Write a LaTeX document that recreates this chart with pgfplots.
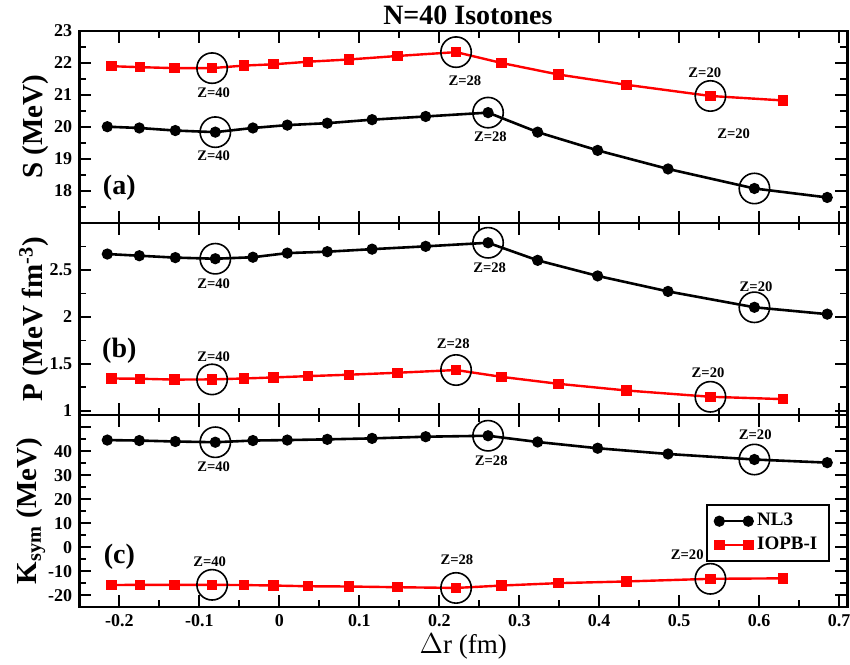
\documentclass[border=0pt]{standalone}
\usepackage{fontspec}
\setmainfont{Liberation Serif}
\usepackage{pgfplots}
\usepackage{pgfplotstable}
\pgfplotsset{compat=1.18}

% columns: Delta r (fm), S (MeV), P (MeV fm^-3), Ksym (MeV)
\pgfplotstableread{
dr      S      P      K
-0.215  20.01  2.670  44.6
-0.175  19.97  2.652  44.4
-0.130  19.89  2.632  44.0
-0.080  19.84  2.620  43.7
-0.033  19.97  2.636  44.4
 0.010  20.06  2.680  44.6
 0.060  20.12  2.695  44.9
 0.116  20.23  2.722  45.3
 0.183  20.33  2.752  46.0
 0.261  20.45  2.790  46.4
 0.323  19.84  2.603  43.8
 0.398  19.27  2.437  41.2
 0.486  18.69  2.272  38.8
 0.594  18.08  2.103  36.5
 0.685  17.80  2.030  35.2
}\nlthree

\pgfplotstableread{
dr      S      P      K
-0.210  21.90  1.345  -15.8
-0.174  21.87  1.342  -15.7
-0.131  21.84  1.333  -15.7
-0.084  21.84  1.335  -15.7
-0.044  21.92  1.345  -15.8
-0.007  21.96  1.356  -16.0
 0.036  22.04  1.370  -16.3
 0.087  22.11  1.385  -16.4
 0.148  22.22  1.406  -16.7
 0.221  22.34  1.435  -17.0
 0.278  22.00  1.362  -16.0
 0.349  21.64  1.288  -15.0
 0.434  21.32  1.217  -14.3
 0.539  20.97  1.150  -13.2
 0.630  20.83  1.125  -13.0
}\iopb

\pgfplotsset{
  panel/.style={
    scale only axis, width=383.85pt, height=96pt,
    anchor=south west, clip=false,
    xmin=-0.25, xmax=0.71,
    xtick={-0.2,-0.1,0,0.1,0.2,0.3,0.4,0.5,0.6,0.7},
    minor x tick num=1,
    xtick pos=both, ytick pos=both,
    axis line style={line width=1.3pt},
    tick style={black, line width=0.9pt},
    major tick length=6pt, minor tick length=3.5pt,
    /pgf/number format/assume math mode=true,
    tick label style={font=\bfseries\fontsize{9}{10}\selectfont},
    ylabel style={at={(axis description cs:-0.0473,0.5)}, anchor=base,
      font=\bfseries\fontsize{14.5}{17}\selectfont},
  },
  nl/.style={black, line width=1.3pt, mark=*, mark size=2.4pt,
    mark options={line width=0.8pt}},
  io/.style={red, line width=1.2pt, mark=square*, mark size=2.2pt,
    mark options={line width=0.8pt}},
  ring/.style={only marks, mark=o, mark size=7.6pt, black,
    mark options={line width=0.8pt}, forget plot},
}
\tikzset{
  zl/.style={font=\bfseries\fontsize{7.3}{8}\selectfont},
  pl/.style={font=\bfseries\fontsize{14}{16}\selectfont},
}

\begin{document}
\begin{tikzpicture}

% (a) S
\begin{axis}[panel, at={(0pt,192pt)},
  ymin=17, ymax=23, ytick={18,...,23}, minor ytick={17.5,18.5,...,22.5},
  xticklabels=\empty,
  ylabel={S (MeV)}]
\addplot[nl] table[x=dr, y=S] {\nlthree};
\addplot[io] table[x=dr, y=S] {\iopb};
\addplot[ring] coordinates {(-0.080,19.84) (0.261,20.45) (0.594,18.08)
  (-0.084,21.84) (0.221,22.34) (0.539,20.97)};
\node[zl] at (axis cs:-0.082,21.07) {Z=40};
\node[zl] at (axis cs:-0.082,19.09) {Z=40};
\node[zl] at (axis cs:0.232,21.44) {Z=28};
\node[zl] at (axis cs:0.264,19.70) {Z=28};
\node[zl] at (axis cs:0.532,21.70) {Z=20};
\node[zl] at (axis cs:0.568,19.78) {Z=20};
\node[pl] at (axis cs:-0.2,18.1) {(a)};
\node[anchor=base, yshift=3pt, font=\bfseries\fontsize{14}{16}\selectfont]
  at (rel axis cs:0.506,1) {N=40 Isotones};
\end{axis}

% (b) P
\begin{axis}[panel, at={(0pt,96pt)},
  ymin=0.955, ymax=3, ytick={1,1.5,2,2.5}, minor ytick={1.25,1.75,2.25,2.75},
  xticklabels=\empty,
  ylabel={P (MeV fm\textsuperscript{-3})}]
\addplot[nl] table[x=dr, y=P] {\nlthree};
\addplot[io] table[x=dr, y=P] {\iopb};
\addplot[ring] coordinates {(-0.080,2.620) (0.261,2.790) (0.594,2.103)
  (-0.084,1.335) (0.221,1.435) (0.539,1.150)};
\node[zl] at (axis cs:-0.082,2.35) {Z=40};
\node[zl] at (axis cs:0.263,2.52) {Z=28};
\node[zl] at (axis cs:0.596,2.32) {Z=20};
\node[zl] at (axis cs:-0.082,1.58) {Z=40};
\node[zl] at (axis cs:0.2175,1.71) {Z=28};
\node[zl] at (axis cs:0.536,1.41) {Z=20};
\node[pl] at (axis cs:-0.2,1.64) {(b)};
\end{axis}

% (c) Ksym
\begin{axis}[panel, at={(0pt,0pt)},
  ymin=-25, ymax=55, ytick={-20,-10,...,50},
  yticklabels={-20,-10,0,10,20,30,40,},
  minor ytick={-15,-5,...,45},
  xlabel={$\Delta$r (fm)},
  xlabel style={at={(axis description cs:0.5,0)}, anchor=base, yshift=-23.3pt,
    font=\fontsize{13.5}{16}\selectfont},
  ylabel={K\textsubscript{sym} (MeV)},
  ylabel style={at={(axis description cs:-0.0557,0.5)}},
  legend cell align=left,
  legend image code/.code={\draw[#1] plot coordinates {(0pt,0pt) (14.5pt,0pt)};},
  legend style={at={(rel axis cs:0.978,0.535)}, anchor=north east,
    draw=black, line width=1pt, inner xsep=4pt, inner ysep=2pt,
    font=\bfseries\fontsize{9.5}{11}\selectfont, row sep=0pt}]
\addplot[nl] table[x=dr, y=K] {\nlthree};
\addlegendentry{NL3}
\addplot[io] table[x=dr, y=K] {\iopb};
\addlegendentry{IOPB-I}
\addplot[ring] coordinates {(-0.080,43.7) (0.261,46.4) (0.594,36.5)
  (-0.084,-15.7) (0.221,-17.0) (0.539,-13.2)};
\node[zl] at (axis cs:-0.082,33.5) {Z=40};
\node[zl] at (axis cs:0.265,36.0) {Z=28};
\node[zl] at (axis cs:0.595,46.7) {Z=20};
\node[zl] at (axis cs:-0.087,-6.0) {Z=40};
\node[zl] at (axis cs:0.222,-5.1) {Z=28};
\node[zl] at (axis cs:0.510,-3.3) {Z=20};
\node[pl] at (axis cs:-0.2,-4.2) {(c)};
\end{axis}

\pgfresetboundingbox
\path[use as bounding box] (-39.65pt,-28.5pt) rectangle (385.25pt,303.5pt);
\end{tikzpicture}
\end{document}
